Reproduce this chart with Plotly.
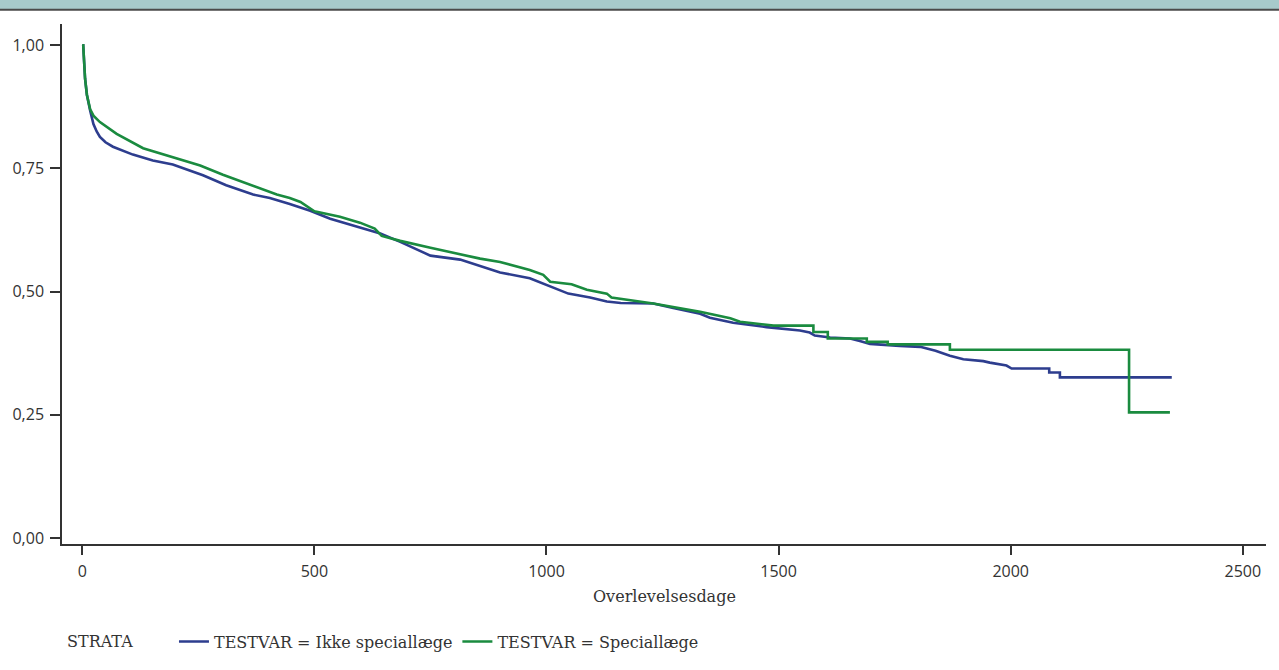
import plotly.graph_objects as go

# --- Data ---
t_ikke = [0, 2, 6, 10, 17, 24, 31, 38, 50, 66, 109, 152, 195, 225, 260, 310, 368, 404, 447, 491,
          534, 598, 642, 685, 728, 750, 814, 900, 964, 1008, 1047, 1094, 1130, 1160, 1230, 1273,
          1331, 1352, 1402, 1474, 1546, 1567, 1578, 1611, 1654, 1675, 1697, 1761, 1805, 1838,
          1869, 1898, 1941, 1955, 1991, 2002, 2083, 2083, 2106, 2106, 2347]
s_ikke = [1.0, 1.0, 0.932, 0.899, 0.867, 0.840, 0.825, 0.814, 0.803, 0.794, 0.778, 0.766, 0.758,
          0.748, 0.736, 0.716, 0.697, 0.690, 0.678, 0.664, 0.648, 0.630, 0.618, 0.601, 0.583,
          0.573, 0.565, 0.539, 0.527, 0.510, 0.496, 0.488, 0.480, 0.477, 0.476, 0.467, 0.455,
          0.447, 0.437, 0.428, 0.421, 0.417, 0.411, 0.407, 0.405, 0.400, 0.394, 0.390, 0.388,
          0.380, 0.370, 0.363, 0.359, 0.356, 0.350, 0.344, 0.344, 0.336, 0.336, 0.326, 0.326]

t_spec = [0, 2, 6, 10, 17, 24, 38, 74, 131, 189, 254, 303, 360, 419, 447, 470, 500, 555, 598,
          630, 645, 685, 750, 814, 857, 900, 964, 993, 1008, 1054, 1087, 1130, 1140, 1230, 1331,
          1396, 1417, 1489, 1575, 1575, 1606, 1606, 1690, 1690, 1735, 1735, 1869, 1869, 2255,
          2255, 2343]
s_spec = [1.0, 1.0, 0.932, 0.899, 0.870, 0.857, 0.844, 0.820, 0.791, 0.774, 0.756, 0.737, 0.717,
          0.697, 0.690, 0.682, 0.663, 0.652, 0.640, 0.628, 0.613, 0.603, 0.589, 0.575, 0.567,
          0.560, 0.544, 0.534, 0.520, 0.515, 0.504, 0.496, 0.488, 0.476, 0.459, 0.446, 0.439,
          0.431, 0.431, 0.418, 0.418, 0.405, 0.405, 0.398, 0.398, 0.393, 0.393, 0.382, 0.382,
          0.255, 0.255]

series_names = ["TESTVAR = Ikke speciallæge", "TESTVAR = Speciallæge"]
series_colors = ["#2d3d8e", "#1a8b3f"]

x_ticks = [0, 500, 1000, 1500, 2000, 2500]
y_ticks = [0.0, 0.25, 0.5, 0.75, 1.0]
y_tick_labels = ["0,00", "0,25", "0,50", "0,75", "1,00"]

serif = "DejaVu Serif"
sans = "Open Sans"

fig = go.Figure()
for t, s, name, col in [(t_ikke, s_ikke, series_names[0], series_colors[0]),
                        (t_spec, s_spec, series_names[1], series_colors[1])]:
    fig.add_trace(go.Scatter(x=t, y=s, mode="lines", name=name,
                             line=dict(color=col, width=2.6)))

fig.update_layout(
    width=1279, height=670,
    margin=dict(l=62, r=13, t=24, b=111),
    paper_bgcolor="white", plot_bgcolor="white",
    showlegend=True,
    legend=dict(orientation="h", x=0.093, xanchor="left", y=-0.1876, yanchor="middle",
                font=dict(family=serif, size=16, color="#333333"),
                bgcolor="rgba(0,0,0,0)", itemwidth=30, tracegroupgap=0),
    xaxis=dict(range=[-43.7, 2550], tickmode="array", tickvals=x_ticks,
               ticktext=[str(v) for v in x_ticks],
               showgrid=False, zeroline=False, showline=True, linecolor="#333333", linewidth=1.5,
               ticks="outside", ticklen=9, tickwidth=1.5, tickcolor="#333333",
               ticklabelstandoff=3,
               tickfont=dict(family=sans, size=16, color="#333333")),
    yaxis=dict(range=[-0.012, 1.043], tickmode="array", tickvals=y_ticks, ticktext=y_tick_labels,
               showgrid=False, zeroline=False, showline=True, linecolor="#333333", linewidth=1.5,
               ticks="outside", ticklen=10, tickwidth=1.5, tickcolor="#333333",
               ticklabelstandoff=3,
               tickfont=dict(family=sans, size=16, color="#333333")),
    shapes=[
        dict(type="rect", xref="paper", yref="paper", x0=-0.06, x1=1.02, y0=1.0272, y1=1.05,
             fillcolor="#a7cacb", line=dict(width=0), layer="above"),
        dict(type="line", xref="paper", yref="paper", x0=-0.06, x1=1.02, y0=1.0272, y1=1.0272,
             line=dict(color="#4a4a4a", width=2), layer="above"),
    ],
    annotations=[
        dict(text="Overlevelsesdage", xref="paper", yref="paper", x=0.5, y=-0.1016,
             xanchor="center", yanchor="middle", showarrow=False,
             font=dict(family=serif, size=16, color="#333333")),
        dict(text="STRATA", xref="paper", yref="paper", x=0.0025, y=-0.1876,
             xanchor="left", yanchor="middle", showarrow=False,
             font=dict(family=serif, size=16, color="#333333")),
    ],
)

fig.write_html("out.html")
